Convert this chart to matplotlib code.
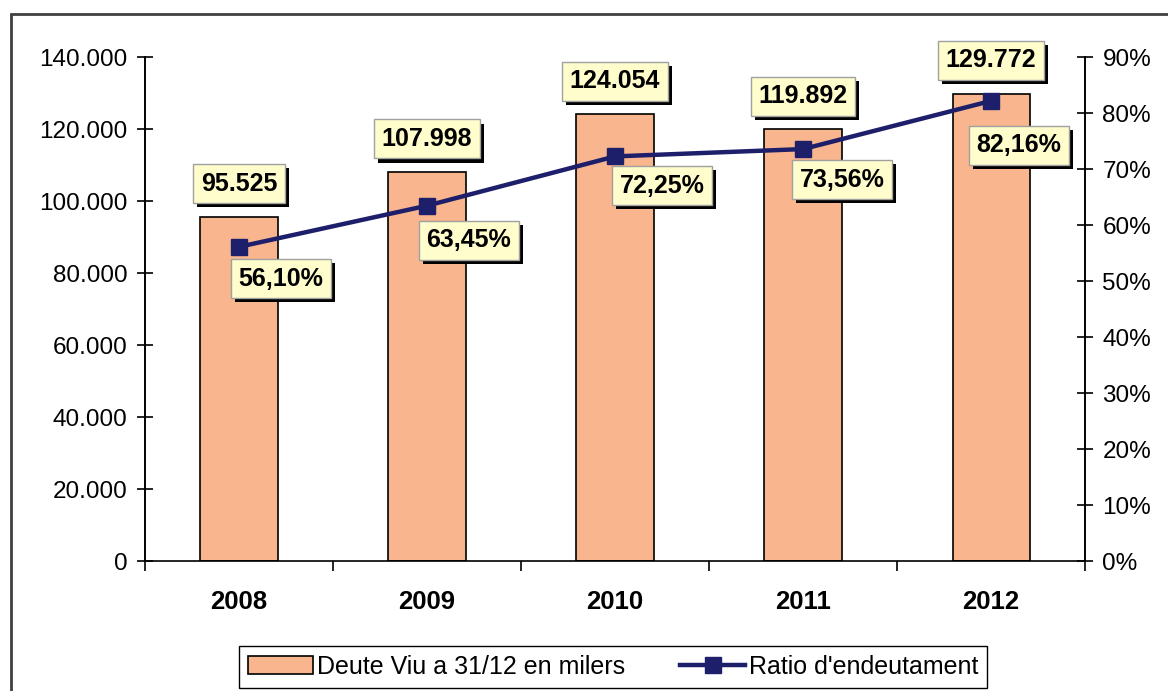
import matplotlib.pyplot as plt
import matplotlib.patheffects as pe
from matplotlib.patches import Rectangle
from matplotlib.ticker import FuncFormatter, FixedLocator

plt.rcParams['font.family'] = ['Liberation Sans', 'DejaVu Sans']

years = ['2008', '2009', '2010', '2011', '2012']
deute = [95525, 107998, 124054, 119892, 129772]
ratio = [56.10, 63.45, 72.25, 73.56, 82.16]

bar_color = '#F9B68E'
line_color = '#1E1F6B'
box_color = '#FFFDCB'

fig = plt.figure(figsize=(11.68, 6.91), dpi=100)
ax = fig.add_axes([0.1241, 0.1881, 0.929 - 0.1241, 0.9175 - 0.1881])
ax2 = ax.twinx()

x = list(range(len(years)))
bars = ax.bar(x, deute, width=0.41, color=bar_color, edgecolor='black', linewidth=1.2,
              label='Deute Viu a 31/12 en milers', zorder=2)
line, = ax2.plot(x, ratio, color=line_color, lw=3.2, marker='s', markersize=12,
                 label="Ratio d'endeutament", zorder=3)

ax.set_xlim(-0.5, 4.5)
ax.set_ylim(0, 140000)
ax2.set_ylim(0, 90)
ax.set_yticks(range(0, 140001, 20000))
ax2.set_yticks(range(0, 91, 10))
ax.yaxis.set_major_formatter(FuncFormatter(lambda v, p: f"{int(v):,}".replace(',', '.')))
ax2.yaxis.set_major_formatter(FuncFormatter(lambda v, p: f"{int(v)}%"))

ax.set_xticks(x)
ax.set_xticklabels(years, fontsize=18.5, fontweight='bold')
ax.xaxis.set_minor_locator(FixedLocator([i - 0.5 for i in range(len(years) + 1)]))
ax.tick_params(axis='x', which='major', length=0, pad=21)
ax.tick_params(axis='x', which='minor', length=7, width=1.2, direction='out')
ax.tick_params(axis='y', length=11, width=1.2, direction='inout', labelsize=17.5, pad=7)
ax2.tick_params(axis='y', length=11, width=1.2, direction='inout', labelsize=17.5, pad=7)

for a in (ax, ax2):
    a.spines['top'].set_visible(False)
    for s in a.spines.values():
        s.set_linewidth(1.2)
ax2.spines['bottom'].set_visible(False)

shadow = [pe.SimplePatchShadow(offset=(3, -3), shadow_rgbFace='black', alpha=1), pe.Normal()]

def box():
    return dict(boxstyle='square,pad=0.3', fc=box_color, ec='#A0A0A0', lw=1,
                path_effects=shadow)

for xi, v in zip(x, deute):
    ax.annotate(f"{v:,}".replace(',', '.'), (xi, v), xytext=(0, 24), textcoords='offset points',
                ha='center', va='center', fontsize=18, fontweight='bold', bbox=box(), zorder=5)

offsets = [(30, -23), (30, -25), (34, -21), (28, -22), (20, -32)]
for xi, v, off in zip(x, ratio, offsets):
    ax2.annotate(f"{v:.2f}%".replace('.', ','), (xi, v), xytext=off, textcoords='offset points',
                 ha='center', va='center', fontsize=18, fontweight='bold', bbox=box(), zorder=5)

fig.legend(handles=[bars, line], loc='center', bbox_to_anchor=(0.525, 0.035), ncol=2,
           fontsize=18, frameon=True, fancybox=False, edgecolor='black', framealpha=1,
           handlelength=2.6, handletextpad=0.15, columnspacing=2.2, borderpad=0.35)

fig.patches.append(Rectangle((0.0094, -0.1), 1.2, 0.9797 + 0.1, transform=fig.transFigure,
                             fill=False, ec='#404040', lw=2))

fig.savefig('out.png', dpi=100)
